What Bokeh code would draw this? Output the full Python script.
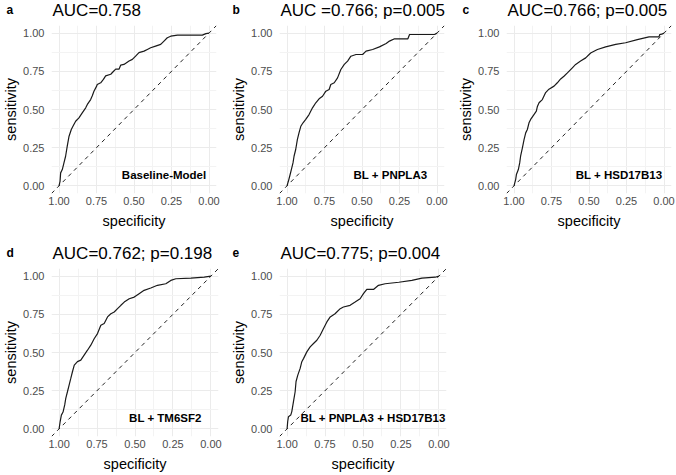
from bokeh.plotting import figure
from bokeh.models import Range1d, FixedTicker, Label, Slope
from bokeh.layouts import column, row
from bokeh.embed import file_html
from bokeh.resources import INLINE

FONT = "Liberation Sans"

# ---------------- data ----------------
tick_values = [0.0, 0.25, 0.5, 0.75, 1.0]
tick_labels = ["0.00", "0.25", "0.50", "0.75", "1.00"]
minor_values = [0.125, 0.375, 0.625, 0.875]

panel_letters = ["a", "b", "c", "d", "e"]
titles = ["AUC=0.758", "AUC =0.766; p=0.005", "AUC=0.766; p=0.005",
          "AUC=0.762; p=0.198", "AUC=0.775; p=0.004"]
model_names = ["Baseline-Model", "BL +  PNPLA3", "BL + HSD17B13",
               "BL + TM6SF2", "BL + PNPLA3 + HSD17B13"]

spec_a = [1, 0.993, 0.989, 0.978, 0.967, 0.956, 0.945, 0.933, 0.918, 0.907,
          0.889, 0.867, 0.845, 0.822, 0.811, 0.789, 0.778, 0.767, 0.749, 0.745,
          0.722, 0.704, 0.689, 0.655, 0.644, 0.622, 0.6, 0.589, 0.567, 0.533,
          0.511, 0.489, 0.467, 0.433, 0.411, 0.389, 0.356, 0.322, 0.3, 0.278,
          0.255, 0.21, 0.045, 0.02, 0]
sens_a = [0, 0.03, 0.085, 0.107, 0.15, 0.194, 0.26, 0.325, 0.369, 0.39,
          0.423, 0.445, 0.478, 0.511, 0.533, 0.565, 0.59, 0.62, 0.653, 0.664,
          0.675, 0.697, 0.72, 0.731, 0.742, 0.764, 0.764, 0.79, 0.795, 0.817,
          0.828, 0.85, 0.872, 0.882, 0.893, 0.904, 0.915, 0.926, 0.948, 0.97,
          0.98, 0.987, 0.987, 0.997, 1]

spec_b = [1, 0.991, 0.982, 0.971, 0.96, 0.953, 0.942, 0.931, 0.92, 0.908,
          0.893, 0.875, 0.853, 0.83, 0.808, 0.786, 0.763, 0.741, 0.719, 0.708,
          0.685, 0.663, 0.641, 0.618, 0.596, 0.574, 0.54, 0.496, 0.473, 0.429,
          0.384, 0.339, 0.317, 0.283, 0.194, 0.183, 0.016, 0]
sens_b = [0, 0.03, 0.063, 0.107, 0.15, 0.194, 0.238, 0.303, 0.347, 0.39,
          0.413, 0.435, 0.467, 0.511, 0.544, 0.57, 0.587, 0.62, 0.631, 0.664,
          0.675, 0.707, 0.762, 0.795, 0.817, 0.849, 0.86, 0.86, 0.882, 0.893,
          0.91, 0.932, 0.948, 0.963, 0.963, 0.991, 0.991, 1]

spec_c = [1, 0.989, 0.984, 0.971, 0.962, 0.956, 0.944, 0.933, 0.922, 0.911,
          0.9, 0.889, 0.867, 0.851, 0.844, 0.833, 0.811, 0.789, 0.767, 0.733,
          0.711, 0.689, 0.667, 0.644, 0.611, 0.589, 0.556, 0.522, 0.489, 0.444,
          0.389, 0.322, 0.256, 0.178, 0.1, 0.033, 0.029, 0.015, 0]
sens_c = [0, 0.041, 0.074, 0.107, 0.15, 0.194, 0.249, 0.303, 0.347, 0.369,
          0.413, 0.435, 0.467, 0.489, 0.52, 0.544, 0.565, 0.611, 0.633, 0.653,
          0.675, 0.70, 0.718, 0.74, 0.773, 0.795, 0.817, 0.838, 0.87, 0.893,
          0.91, 0.926, 0.937, 0.958, 0.976, 0.976, 0.99, 0.993, 1]

spec_d = [1, 0.993, 0.985, 0.974, 0.963, 0.956, 0.945, 0.934, 0.923, 0.912,
          0.9, 0.879, 0.857, 0.835, 0.813, 0.791, 0.769, 0.747, 0.725, 0.703,
          0.681, 0.659, 0.637, 0.615, 0.593, 0.571, 0.538, 0.505, 0.473, 0.44,
          0.396, 0.352, 0.297, 0.264, 0.231, 0.132, 0.044, 0]
sens_d = [0, 0.048, 0.09, 0.11, 0.157, 0.2, 0.243, 0.287, 0.33, 0.374,
          0.417, 0.44, 0.45, 0.483, 0.515, 0.548, 0.59, 0.624, 0.678, 0.69,
          0.733, 0.754, 0.765, 0.787, 0.809, 0.83, 0.852, 0.863, 0.885, 0.907,
          0.922, 0.94, 0.95, 0.972, 0.983, 0.987, 0.993, 1]

spec_e = [1, 0.996, 0.991, 0.976, 0.969, 0.958, 0.947, 0.941, 0.93, 0.914,
          0.903, 0.892, 0.87, 0.848, 0.826, 0.804, 0.782, 0.76, 0.738, 0.716,
          0.684, 0.65, 0.629, 0.585, 0.552, 0.519, 0.497, 0.475, 0.431, 0.398,
          0.354, 0.264, 0.178, 0.112, 0.024, 0]
sens_e = [0, 0.048, 0.08, 0.09, 0.113, 0.178, 0.243, 0.31, 0.35, 0.396,
          0.44, 0.46, 0.504, 0.537, 0.559, 0.58, 0.613, 0.657, 0.70, 0.733,
          0.754, 0.787, 0.798, 0.809, 0.83, 0.852, 0.885, 0.913, 0.913, 0.94,
          0.95, 0.96, 0.972, 0.987, 0.993, 1]

specs = [spec_a, spec_b, spec_c, spec_d, spec_e]
senss = [sens_a, sens_b, sens_c, sens_d, sens_e]

# ---------------- layout constants ----------------
TOTAL_W = 676
# per row: header height, title anchor (from header bottom), plot height,
# plot top border, plot bottom border, x-axis label standoff
ROWS = [dict(hh=21, base=11, ph=210, top=4, bot=38, xls=5),
        dict(hh=33, base=11, ph=210, top=4, bot=38, xls=5)]

# width, left border, right border, letter offset, row index
geom = [(228, 51, 12, -45, 0), (227, 51, 11, -47, 0), (221, 51, 5, -44, 0),
        (228, 51, 10, -45, 1), (228, 51, 10, -47, 1)]
rows_members = [[0, 1, 2], [3, 4]]


def make_header(r):
    rc = ROWS[r]
    h = figure(frame_width=TOTAL_W, frame_height=rc["hh"],
               x_range=Range1d(0, TOTAL_W), y_range=Range1d(0, rc["hh"]),
               x_axis_location=None, y_axis_location=None,
               min_border=0, min_border_top=0, min_border_bottom=0,
               min_border_left=0, min_border_right=0,
               toolbar_location=None, output_backend="svg")
    h.title.visible = False
    h.outline_line_color = None
    h.grid.visible = False
    h.background_fill_color = "white"
    h.border_fill_color = "white"
    x0 = 0
    for i in rows_members[r]:
        w, lb, rb, ldx, _ = geom[i]
        h.add_layout(Label(x=x0 + lb + 1, y=rc["base"], text=titles[i],
                           text_font=FONT, text_font_size="17px",
                           text_align="left", text_baseline="alphabetic",
                           text_color="#000000"))
        h.add_layout(Label(x=x0 + lb + ldx, y=rc["base"] + 1,
                           text=panel_letters[i], text_font=FONT,
                           text_font_size="12px", text_font_style="bold",
                           text_align="left", text_baseline="alphabetic",
                           text_color="#000000"))
        x0 += w
    return h


def make_panel(i):
    w, lb, rb, ldx, r = geom[i]
    rc = ROWS[r]
    p = figure(width=w, height=rc["ph"], x_range=Range1d(1.05, -0.05),
               y_range=Range1d(-0.05, 1.05), output_backend="svg",
               toolbar_location=None, min_border_left=lb, min_border_right=rb,
               min_border_top=rc["top"], min_border_bottom=rc["bot"],
               x_axis_label="specificity", y_axis_label="sensitivity")
    p.title.visible = False
    p.outline_line_color = None
    p.background_fill_color = "white"
    p.border_fill_color = "white"

    overrides = {float(v): lab for v, lab in zip(tick_values, tick_labels)}
    for ax in (p.xaxis[0], p.yaxis[0]):
        ax.ticker = FixedTicker(ticks=tick_values, minor_ticks=minor_values)
        ax.major_label_overrides = overrides
        ax.axis_line_color = None
        ax.major_tick_line_color = None
        ax.minor_tick_line_color = None
        ax.major_tick_out = 0
        ax.major_tick_in = 0
        ax.minor_tick_out = 0
        ax.major_label_text_font = FONT
        ax.major_label_text_font_size = "11px"
        ax.major_label_text_color = "#4D4D4D"
        ax.axis_label_text_font = FONT
        ax.axis_label_text_font_size = "14.5px"
        ax.axis_label_text_font_style = "normal"
        ax.axis_label_text_color = "#000000"
    p.xaxis[0].major_label_standoff = 3
    p.xaxis[0].axis_label_standoff = rc["xls"]
    p.yaxis[0].major_label_standoff = 7
    p.yaxis[0].axis_label_standoff = 1

    for g in (p.xgrid[0], p.ygrid[0]):
        g.grid_line_color = "#EBEBEB"
        g.grid_line_width = 1
        g.minor_grid_line_color = "#F3F3F3"
        g.minor_grid_line_width = 1

    p.add_layout(Slope(gradient=-1, y_intercept=1, line_color="#222222",
                       line_width=1, line_dash="4 4"))
    p.line(specs[i], senss[i], line_color="#1a1a1a", line_width=1.2)

    if i == 4:
        lab = Label(x=-0.05, y=0.07, x_offset=-1, text=model_names[i],
                    text_align="right")
    else:
        lab = Label(x=0.30, y=0.07, text=model_names[i], text_align="center")
    lab.text_font = FONT
    lab.text_font_size = "11.5px"
    lab.text_font_style = "bold"
    lab.text_baseline = "middle"
    lab.text_color = "#000000"
    p.add_layout(lab)
    return p


panels = [make_panel(i) for i in range(5)]
layout = column(make_header(0),
                row(panels[0], panels[1], panels[2]),
                make_header(1),
                row(panels[3], panels[4]))

open("out.html", "w").write(file_html(layout, INLINE, title="ROC curves"))
